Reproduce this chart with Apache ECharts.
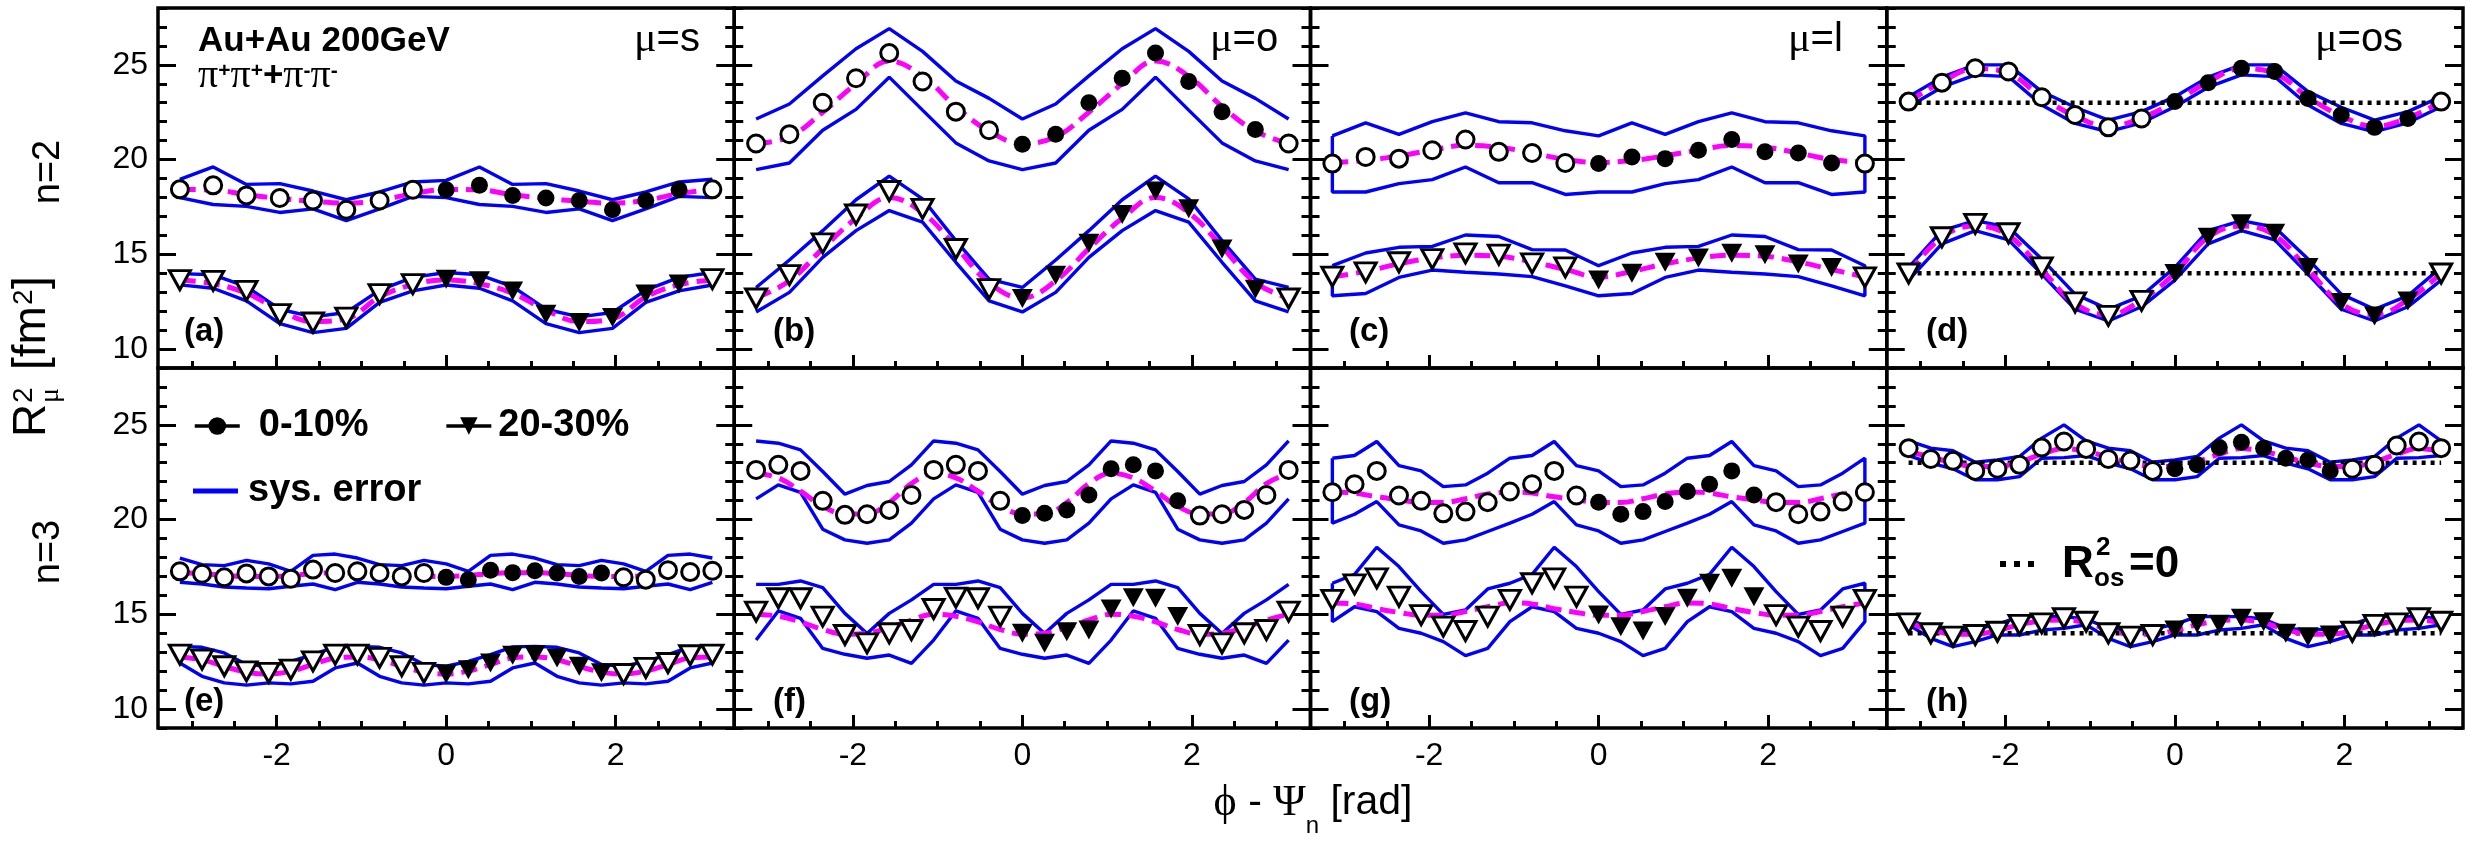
<!DOCTYPE html>
<html>
<head>
<meta charset="utf-8">
<title>R2 vs phi - Psi_n</title>
<script src="https://cdn.jsdelivr.net/npm/echarts@6.0.0/dist/echarts.min.js"></script>
<style>
html, body { margin: 0; padding: 0; background: #fff; }
#main { width: 2477px; height: 843px; }
</style>
</head>
<body>
<div id="main"></div>
<script>
// phi - Psi_n sample points [rad]
var phiN2 = [-3.142, -2.749, -2.356, -1.963, -1.571, -1.178, -0.785, -0.393, 0, 0.393, 0.785, 1.178, 1.571, 1.963, 2.356, 2.749, 3.142];
var phiN3 = [-3.142, -2.880, -2.618, -2.356, -2.094, -1.833, -1.571, -1.309, -1.047, -0.785, -0.524, -0.262, 0,
    0.262, 0.524, 0.785, 1.047, 1.309, 1.571, 1.833, 2.094, 2.356, 2.618, 2.880, 3.142];
// points from phi=0 on that are drawn filled (measured bins)
var filledSteps = 8;

// axis ticks / labels
var xMajorTicks = [-2, 0, 2];
var xMinorTicks = [-3, -2.5, -1.5, -1, -0.5, 0.5, 1, 1.5, 2.5, 3];
var yMajorTicks = [10, 15, 20, 25];
var yMinorTicks = [9, 11, 12, 13, 14, 16, 17, 18, 19, 21, 22, 23, 24, 26, 27, 28];
var osLevels = [23, 14];

var panelTags = ['(a)', '(b)', '(c)', '(d)', '(e)', '(f)', '(g)', '(h)'];
var muNames = ['s', 'o', 'l', 'os'];

// (a) mu=s, n=2   C = 0-10% circles, T = 20-30% triangles
var aC    = [18.43, 18.64, 18.11, 17.97, 17.84, 17.35, 17.84, 18.41, 18.41, 18.64, 18.11, 17.97, 17.84, 17.35, 17.84, 18.41, 18.43];
var aCHi  = [18.96, 19.61, 18.69, 18.73, 18.34, 17.88, 18.29, 18.82, 18.90, 19.61, 18.69, 18.73, 18.34, 17.88, 18.29, 18.82, 18.96];
var aCLo  = [17.99, 17.63, 17.53, 17.21, 17.40, 16.78, 17.40, 18.06, 17.99, 17.63, 17.53, 17.21, 17.40, 16.78, 17.40, 18.06, 17.99];
var aCFit = [18.42, 18.40, 18.15, 17.95, 17.80, 17.70, 17.85, 18.20, 18.42, 18.40, 18.15, 17.95, 17.80, 17.70, 17.85, 18.20, 18.42];
var aT    = [13.64, 13.60, 13.07, 11.84, 11.40, 11.66, 12.90, 13.43, 13.69, 13.60, 13.07, 11.84, 11.40, 11.66, 12.90, 13.43, 13.69];
var aTHi  = [13.98, 13.92, 13.29, 12.10, 11.70, 11.93, 13.11, 13.78, 14.04, 13.92, 13.29, 12.10, 11.70, 11.93, 13.11, 13.78, 14.04];
var aTLo  = [13.39, 13.21, 12.54, 11.34, 10.87, 11.09, 12.46, 13.07, 13.38, 13.21, 12.54, 11.34, 10.87, 11.09, 12.46, 13.07, 13.38];
var aTFit = [13.65, 13.45, 12.95, 12.05, 11.45, 11.60, 12.75, 13.40, 13.65, 13.45, 12.95, 12.05, 11.45, 11.60, 12.75, 13.40, 13.65];

// (b) mu=o, n=2
var bC    = [20.85, 21.34, 23.00, 24.29, 25.62, 24.12, 22.53, 21.55, 20.81, 21.34, 23.00, 24.29, 25.62, 24.12, 22.53, 21.59, 20.85];
var bCHi  = [22.14, 22.93, 24.42, 25.85, 26.91, 25.71, 24.15, 23.23, 22.14, 22.93, 24.42, 25.85, 26.91, 25.71, 24.15, 23.23, 22.14];
var bCLo  = [19.47, 19.82, 21.55, 22.65, 24.35, 22.61, 20.88, 19.93, 19.47, 19.82, 21.55, 22.65, 24.35, 22.61, 20.88, 19.93, 19.47];
var bCFit = [20.85, 21.20, 22.50, 24.00, 25.20, 24.40, 22.80, 21.50, 20.85, 21.20, 22.50, 24.00, 25.20, 24.40, 22.80, 21.50, 20.85];
var bT    = [12.67, 13.90, 15.58, 17.10, 18.34, 17.40, 15.28, 13.16, 12.67, 13.90, 15.58, 17.10, 18.34, 17.40, 15.28, 13.16, 12.67];
var bTHi  = [13.25, 14.70, 16.25, 17.88, 19.13, 17.93, 15.72, 13.69, 13.25, 14.70, 16.25, 17.88, 19.13, 17.93, 15.72, 13.69, 13.25];
var bTLo  = [11.96, 12.99, 14.84, 16.25, 17.31, 16.70, 14.58, 12.54, 11.96, 12.99, 14.84, 16.25, 17.31, 16.70, 14.58, 12.54, 11.96];
var bTFit = [12.70, 13.60, 15.30, 16.90, 18.00, 17.20, 15.40, 13.50, 12.70, 13.60, 15.30, 16.90, 18.00, 17.20, 15.40, 13.50, 12.70];

// (c) mu=l, n=2
var cC    = [19.79, 20.14, 20.05, 20.49, 21.06, 20.41, 20.35, 19.82, 19.79, 20.14, 20.05, 20.49, 21.06, 20.41, 20.35, 19.82, 19.79];
var cCHi  = [21.25, 21.94, 21.33, 22.00, 22.47, 22.00, 21.94, 21.52, 21.25, 21.94, 21.33, 22.00, 22.47, 22.00, 21.94, 21.52, 21.25];
var cCLo  = [18.29, 18.29, 18.73, 18.94, 19.61, 18.78, 18.78, 18.16, 18.29, 18.29, 18.73, 18.94, 19.61, 18.78, 18.78, 18.16, 18.29];
var cCFit = [19.85, 19.95, 20.20, 20.50, 20.75, 20.65, 20.35, 20.00, 19.85, 19.95, 20.20, 20.50, 20.75, 20.65, 20.35, 20.00, 19.85];
var cT    = [13.82, 14.05, 14.58, 14.75, 15.05, 14.98, 14.52, 14.31, 13.64, 14.00, 14.58, 14.81, 15.05, 14.98, 14.49, 14.31, 13.78];
var cTHi  = [14.40, 15.07, 15.37, 15.42, 16.02, 15.94, 15.25, 15.23, 14.40, 15.07, 15.37, 15.42, 16.02, 15.94, 15.25, 15.23, 14.40];
var cTLo  = [12.81, 12.93, 13.78, 14.17, 14.05, 13.96, 13.82, 13.34, 12.81, 12.93, 13.78, 14.17, 14.05, 13.96, 13.82, 13.34, 12.81];
var cTFit = [13.80, 14.10, 14.50, 14.80, 14.95, 14.90, 14.60, 14.20, 13.80, 14.10, 14.50, 14.80, 14.95, 14.90, 14.60, 14.20, 13.80];

// (d) mu=os, n=2
var dC    = [23.06, 24.06, 24.82, 24.65, 23.29, 22.35, 21.70, 22.17, 23.06, 24.06, 24.82, 24.65, 23.23, 22.35, 21.70, 22.17, 23.06];
var dCHi  = [23.32, 24.35, 25.00, 25.00, 23.59, 22.76, 22.08, 22.53, 23.32, 24.35, 25.00, 25.00, 23.59, 22.76, 22.08, 22.53, 23.32];
var dCLo  = [22.79, 23.82, 24.47, 24.38, 22.88, 21.91, 21.47, 21.94, 22.79, 23.82, 24.47, 24.38, 22.88, 21.91, 21.47, 21.94, 22.79];
var dCFit = [23.05, 24.10, 24.80, 24.55, 23.30, 22.30, 21.75, 22.20, 23.05, 24.10, 24.80, 24.55, 23.30, 22.30, 21.75, 22.20, 23.05];
var dT    = [13.99, 15.90, 16.61, 16.11, 14.31, 12.46, 11.75, 12.54, 13.99, 15.90, 16.61, 16.11, 14.31, 12.46, 11.75, 12.54, 13.99];
var dTHi  = [14.31, 16.25, 16.78, 16.43, 14.75, 12.90, 12.10, 12.81, 14.31, 16.25, 16.78, 16.43, 14.75, 12.90, 12.10, 12.81, 14.31];
var dTLo  = [13.64, 15.55, 16.25, 15.76, 13.96, 12.10, 11.48, 12.23, 13.64, 15.55, 16.25, 15.76, 13.96, 12.10, 11.48, 12.23, 13.64];
var dTFit = [14.00, 15.90, 16.50, 16.00, 14.20, 12.40, 11.80, 12.60, 14.00, 15.90, 16.50, 16.00, 14.20, 12.40, 11.80, 12.60, 14.00];

// (e) mu=s, n=3
var eC    = [17.27, 17.14, 16.95, 17.16, 17.00, 16.88, 17.36, 17.18, 17.27, 17.18, 17.00, 17.18, 16.95, 16.83, 17.33, 17.20,
             17.30, 17.18, 17.00, 17.18, 16.95, 16.83, 17.33, 17.23, 17.30];
var eCHi  = [17.97, 17.62, 17.57, 17.85, 17.66, 17.27, 18.11, 18.18, 17.97, 17.62, 17.57, 17.85, 17.66, 17.27, 18.11, 18.18,
             17.97, 17.62, 17.57, 17.85, 17.66, 17.27, 18.11, 18.18, 17.97];
var eCLo  = [16.69, 16.60, 16.44, 16.39, 16.35, 16.48, 16.60, 16.30, 16.69, 16.60, 16.44, 16.39, 16.35, 16.48, 16.60, 16.30,
             16.69, 16.60, 16.44, 16.39, 16.35, 16.48, 16.60, 16.30, 16.69];
var eCFit = [17.20, 17.15, 17.05, 17.00, 17.00, 17.05, 17.15, 17.20, 17.20, 17.15, 17.05, 17.00, 17.00, 17.05, 17.15, 17.20,
             17.20, 17.15, 17.05, 17.00, 17.00, 17.05, 17.15, 17.20, 17.20];
var eT    = [12.87, 12.61, 12.26, 11.99, 11.91, 12.08, 12.52, 12.87, 12.87, 12.70, 12.26, 11.91, 11.85, 12.08, 12.43, 12.84,
             12.87, 12.70, 12.26, 11.91, 11.85, 12.17, 12.43, 12.84, 12.87];
var eTHi  = [13.31, 13.26, 12.96, 12.35, 12.26, 12.52, 12.87, 13.28, 13.31, 13.26, 12.96, 12.35, 12.26, 12.52, 12.87, 13.28,
             13.31, 13.26, 12.96, 12.35, 12.26, 12.52, 12.87, 13.28, 13.31];
var eTLo  = [12.43, 11.73, 11.38, 11.26, 11.38, 11.33, 11.47, 12.17, 12.43, 11.73, 11.38, 11.26, 11.38, 11.33, 11.47, 12.17,
             12.43, 11.73, 11.38, 11.26, 11.38, 11.33, 11.47, 12.17, 12.43];
var eTFit = [12.75, 12.60, 12.25, 11.95, 11.85, 12.00, 12.35, 12.70, 12.75, 12.60, 12.25, 11.95, 11.85, 12.00, 12.35, 12.70,
             12.75, 12.60, 12.25, 11.95, 11.85, 12.00, 12.35, 12.70, 12.75];

// (f) mu=o, n=3
var fC    = [22.62, 22.89, 22.57, 20.99, 20.25, 20.28, 20.51, 21.30, 22.62, 22.89, 22.57, 20.99, 20.21, 20.33, 20.51, 21.30,
             22.68, 22.89, 22.57, 20.99, 20.21, 20.28, 20.51, 21.30, 22.62];
var fCHi  = [24.15, 24.03, 23.68, 22.54, 21.34, 21.80, 22.01, 22.89, 24.15, 24.03, 23.68, 22.54, 21.34, 21.80, 22.01, 22.89,
             24.15, 24.03, 23.68, 22.54, 21.34, 21.80, 22.01, 22.89, 24.15];
var fCLo  = [21.09, 21.83, 21.44, 19.49, 18.93, 18.75, 18.93, 19.81, 21.09, 21.83, 21.44, 19.49, 18.93, 18.75, 18.93, 19.81,
             21.09, 21.83, 21.44, 19.49, 18.93, 18.75, 18.93, 19.81, 21.09];
var fCFit = [22.45, 22.20, 21.50, 20.70, 20.30, 20.30, 20.90, 21.90, 22.45, 22.20, 21.50, 20.70, 20.30, 20.30, 20.90, 21.90,
             22.45, 22.20, 21.50, 20.70, 20.30, 20.30, 20.90, 21.90, 22.45];
var fT    = [15.14, 15.85, 15.85, 14.88, 13.91, 13.47, 14.00, 14.17, 15.28, 15.88, 15.85, 14.88, 14.00, 13.47, 14.08, 14.17,
             15.28, 15.88, 15.85, 14.88, 13.91, 13.47, 14.00, 14.17, 15.14];
var fTHi  = [16.58, 16.58, 16.76, 16.41, 15.05, 13.99, 15.05, 15.76, 16.58, 16.58, 16.76, 16.41, 15.05, 13.99, 15.05, 15.76,
             16.58, 16.58, 16.76, 16.41, 15.05, 13.99, 15.05, 15.76, 16.58];
var fTLo  = [13.64, 15.18, 14.79, 13.20, 12.89, 12.68, 12.85, 12.41, 13.64, 15.18, 14.79, 13.20, 12.89, 12.68, 12.85, 12.41,
             13.64, 15.18, 14.79, 13.20, 12.89, 12.68, 12.85, 12.41, 13.64];
var fTFit = [15.00, 14.90, 14.60, 14.20, 13.95, 14.00, 14.30, 14.70, 15.00, 14.90, 14.60, 14.20, 13.95, 14.00, 14.30, 14.70,
             15.00, 14.90, 14.60, 14.20, 13.95, 14.00, 14.30, 14.70, 15.00];

// (g) mu=l, n=3
var gC    = [21.44, 21.87, 22.57, 21.27, 20.99, 20.33, 20.42, 20.92, 21.48, 21.87, 22.57, 21.27, 20.92, 20.28, 20.42, 20.95,
             21.48, 21.87, 22.57, 21.30, 20.92, 20.28, 20.42, 20.95, 21.44];
var gCHi  = [23.24, 23.38, 24.12, 22.85, 22.57, 21.74, 21.83, 22.45, 23.24, 23.38, 24.12, 22.85, 22.57, 21.74, 21.83, 22.45,
             23.24, 23.38, 24.12, 22.85, 22.57, 21.74, 21.83, 22.45, 23.24];
var gCLo  = [19.81, 20.28, 20.95, 19.72, 19.40, 18.75, 18.93, 19.37, 19.81, 20.28, 20.95, 19.72, 19.40, 18.75, 18.93, 19.37,
             19.81, 20.28, 20.95, 19.72, 19.40, 18.75, 18.93, 19.37, 19.81];
var gCFit = [21.45, 21.40, 21.20, 21.05, 20.90, 20.90, 21.10, 21.35, 21.45, 21.40, 21.20, 21.05, 20.90, 20.90, 21.10, 21.35,
             21.45, 21.40, 21.20, 21.05, 20.90, 20.90, 21.10, 21.35, 21.45];
var gT    = [15.76, 16.58, 16.90, 15.93, 14.96, 14.35, 14.12, 14.88, 15.76, 16.64, 16.90, 15.93, 14.96, 14.35, 14.12, 14.88,
             15.85, 16.64, 16.90, 15.93, 14.96, 14.35, 14.12, 14.88, 15.76];
var gTHi  = [16.64, 17.11, 18.54, 17.52, 16.20, 15.00, 15.23, 16.34, 16.64, 17.11, 18.54, 17.52, 16.20, 15.00, 15.23, 16.34,
             16.64, 17.11, 18.54, 17.52, 16.20, 15.00, 15.23, 16.34, 16.64];
var gTLo  = [14.61, 15.40, 15.14, 14.26, 14.00, 13.56, 12.82, 13.20, 14.61, 15.40, 15.14, 14.26, 14.00, 13.56, 12.82, 13.20,
             14.61, 15.40, 15.14, 14.26, 14.00, 13.56, 12.82, 13.20, 14.61];
var gTFit = [15.60, 15.55, 15.30, 15.10, 14.95, 14.95, 15.15, 15.40, 15.60, 15.55, 15.30, 15.10, 14.95, 14.95, 15.15, 15.40,
             15.60, 15.55, 15.30, 15.10, 14.95, 14.95, 15.15, 15.40, 15.60];

// (h) mu=os, n=3
var hC    = [23.77, 23.20, 23.10, 22.57, 22.68, 22.89, 23.80, 24.12, 23.73, 23.20, 23.12, 22.57, 22.68, 22.89, 23.80, 24.08,
             23.77, 23.24, 23.15, 22.57, 22.68, 22.89, 23.91, 24.12, 23.77];
var hCHi  = [24.15, 23.77, 23.63, 23.03, 23.15, 23.33, 24.30, 25.00, 24.15, 23.77, 23.63, 23.03, 23.15, 23.33, 24.30, 25.00,
             24.15, 23.77, 23.63, 23.03, 23.15, 23.33, 24.30, 25.00, 24.15];
var hCLo  = [23.38, 22.98, 22.68, 22.10, 22.10, 22.27, 23.24, 23.27, 23.38, 22.98, 22.68, 22.10, 22.10, 22.27, 23.24, 23.27,
             23.38, 22.98, 22.68, 22.10, 22.10, 22.27, 23.24, 23.27, 23.38];
var hCFit = [23.60, 23.30, 23.00, 22.80, 22.80, 23.05, 23.45, 23.75, 23.60, 23.30, 23.00, 22.80, 22.80, 23.05, 23.45, 23.75,
             23.60, 23.30, 23.00, 22.80, 22.80, 23.05, 23.45, 23.75, 23.60];
var hT    = [14.52, 14.00, 13.82, 13.91, 14.08, 14.44, 14.52, 14.79, 14.61, 14.00, 13.82, 13.91, 14.17, 14.52, 14.47, 14.79,
             14.61, 14.00, 13.82, 13.91, 14.08, 14.44, 14.52, 14.79, 14.61];
var hTHi  = [14.75, 14.26, 14.17, 14.22, 14.47, 14.88, 14.88, 14.88, 14.75, 14.26, 14.17, 14.22, 14.47, 14.88, 14.88, 14.88,
             14.75, 14.26, 14.17, 14.22, 14.47, 14.88, 14.88, 14.88, 14.75];
var hTLo  = [14.45, 13.73, 13.29, 13.56, 13.91, 13.91, 14.17, 14.26, 14.45, 13.73, 13.29, 13.56, 13.91, 13.91, 14.17, 14.26,
             14.45, 13.73, 13.29, 13.56, 13.91, 13.91, 14.17, 14.26, 14.45];
var hTFit = [14.55, 14.20, 13.95, 13.95, 14.15, 14.45, 14.65, 14.70, 14.55, 14.20, 13.95, 13.95, 14.15, 14.45, 14.65, 14.70,
             14.55, 14.20, 13.95, 13.95, 14.15, 14.45, 14.65, 14.70, 14.55];

var FONT = '"Liberation Sans", Arial, Helvetica, sans-serif';
var SERIF = '"Liberation Serif", "DejaVu Serif", serif';
var BLUE = '#0000ff', MAGENTA = '#ff00ff';

var panels = [
    { phi: phiN2, c: aC, cHi: aCHi, cLo: aCLo, cFit: aCFit, t: aT, tHi: aTHi, tLo: aTLo, tFit: aTFit, closed: false, ref: false },
    { phi: phiN2, c: bC, cHi: bCHi, cLo: bCLo, cFit: bCFit, t: bT, tHi: bTHi, tLo: bTLo, tFit: bTFit, closed: false, ref: false },
    { phi: phiN2, c: cC, cHi: cCHi, cLo: cCLo, cFit: cCFit, t: cT, tHi: cTHi, tLo: cTLo, tFit: cTFit, closed: true, ref: false },
    { phi: phiN2, c: dC, cHi: dCHi, cLo: dCLo, cFit: dCFit, t: dT, tHi: dTHi, tLo: dTLo, tFit: dTFit, closed: true, ref: true },
    { phi: phiN3, c: eC, cHi: eCHi, cLo: eCLo, cFit: eCFit, t: eT, tHi: eTHi, tLo: eTLo, tFit: eTFit, closed: false, ref: false },
    { phi: phiN3, c: fC, cHi: fCHi, cLo: fCLo, cFit: fCFit, t: fT, tHi: fTHi, tLo: fTLo, tFit: fTFit, closed: false, ref: false },
    { phi: phiN3, c: gC, cHi: gCHi, cLo: gCLo, cFit: gCFit, t: gT, tHi: gTHi, tLo: gTLo, tFit: gTFit, closed: true, ref: false },
    { phi: phiN3, c: hC, cHi: hCHi, cLo: hCLo, cFit: hCFit, t: hT, tHi: hTHi, tLo: hTLo, tFit: hTFit, closed: true, ref: true }
];

var GRID_LEFT = 158, GRID_TOP = 8, PANEL_W = 576.25, PANEL_H = 360;

function toPoints(phi, vals) {
    return vals.map(function (v, i) { return [phi[i], v]; });
}

function splitFilled(phi, vals) {
    var mid = (phi.length - 1) / 2;
    var out = { filled: [], open: [] };
    vals.forEach(function (v, i) {
        var k = i - mid;
        if (k >= 0 && k < filledSteps) out.filled.push([phi[i], v]);
        else out.open.push([phi[i], v]);
    });
    return out;
}

function bandSeries(i, phi, hi, lo, closed) {
    function make(data) {
        return {
            type: 'line', name: 'sys. error', xAxisIndex: 2 * i, yAxisIndex: 4 * i,
            data: data, symbol: 'none', silent: true, z: 2,
            itemStyle: { color: BLUE }, lineStyle: { color: BLUE, width: 3.4 }
        };
    }
    if (closed) {
        var ring = toPoints(phi, hi).concat(toPoints(phi, lo).reverse());
        ring.push([phi[0], hi[0]]);
        return [make(ring)];
    }
    return [make(toPoints(phi, hi)), make(toPoints(phi, lo))];
}

function fitSeries(i, phi, vals) {
    return {
        type: 'line', name: 'fit', xAxisIndex: 2 * i, yAxisIndex: 4 * i,
        data: toPoints(phi, vals), smooth: 0.4, symbol: 'none', silent: true, z: 3,
        lineStyle: { color: MAGENTA, width: 5, type: [16, 8] }
    };
}

function markerSeries(i, pts, isCircle, filled) {
    return {
        type: 'line',
        name: filled ? (isCircle ? '0-10%' : '20-30%') : 'open',
        xAxisIndex: 2 * i, yAxisIndex: 4 * i, data: pts, z: 5,
        symbol: isCircle ? 'circle' : 'triangle',
        symbolRotate: isCircle ? 0 : 180,
        symbolSize: isCircle ? 17 : [21, 19],
        showSymbol: true, showAllSymbol: true, silent: true,
        lineStyle: { opacity: 0 },
        itemStyle: filled ? { color: '#000', borderColor: '#000', borderWidth: 0 }
                          : { color: '#fff', borderColor: '#000', borderWidth: 3 },
        emphasis: { disabled: true }
    };
}

var grids = [], xAxes = [], yAxes = [], series = [];

panels.forEach(function (p, i) {
    var col = i % 4, row = Math.floor(i / 4);
    grids.push({
        left: GRID_LEFT + col * PANEL_W, top: GRID_TOP + row * PANEL_H,
        width: PANEL_W, height: PANEL_H,
        show: true, borderColor: '#000', borderWidth: 3.5, backgroundColor: 'transparent'
    });

    var xBase = {
        gridIndex: i, type: 'value', min: -3.4, max: 3.4, position: 'bottom',
        axisLine: { show: false, onZero: false }, splitLine: { show: false }
    };
    xAxes.push(Object.assign({}, xBase, {
        axisTick: { show: true, inside: true, length: 13, lineStyle: { color: '#000', width: 3 }, customValues: xMajorTicks },
        axisLabel: row === 1
            ? { show: true, customValues: xMajorTicks, color: '#000', fontSize: 32, fontFamily: FONT, margin: 12 }
            : { show: false }
    }));
    xAxes.push(Object.assign({}, xBase, {
        axisTick: { show: true, inside: true, length: 7, lineStyle: { color: '#000', width: 3 }, customValues: xMinorTicks },
        axisLabel: { show: false }
    }));

    ['left', 'right'].forEach(function (side) {
        var yBase = {
            gridIndex: i, type: 'value', min: 9, max: 28, position: side,
            axisLine: { show: false, onZero: false }, splitLine: { show: false }
        };
        yAxes.push(Object.assign({}, yBase, {
            axisTick: { show: true, inside: true, length: 18, lineStyle: { color: '#000', width: 3 }, customValues: yMajorTicks },
            axisLabel: (side === 'left' && col === 0)
                ? { show: true, customValues: yMajorTicks, color: '#000', fontSize: 32, fontFamily: FONT, margin: 10 }
                : { show: false }
        }));
        yAxes.push(Object.assign({}, yBase, {
            axisTick: { show: true, inside: true, length: 9, lineStyle: { color: '#000', width: 3 }, customValues: yMinorTicks },
            axisLabel: { show: false }
        }));
    });

    series = series.concat(bandSeries(i, p.phi, p.cHi, p.cLo, p.closed));
    series = series.concat(bandSeries(i, p.phi, p.tHi, p.tLo, p.closed));
    if (p.ref) {
        osLevels.forEach(function (lv) {
            series.push({
                type: 'line', name: 'R2os=0', xAxisIndex: 2 * i, yAxisIndex: 4 * i,
                data: [[p.phi[0], lv], [p.phi[p.phi.length - 1], lv]],
                symbol: 'none', silent: true, z: 2,
                lineStyle: { color: '#000', width: 4.5, type: [4, 5] }
            });
        });
    }
    series.push(fitSeries(i, p.phi, p.cFit));
    series.push(fitSeries(i, p.phi, p.tFit));

    var cs = splitFilled(p.phi, p.c), ts = splitFilled(p.phi, p.t);
    series.push(markerSeries(i, cs.open, true, false));
    series.push(markerSeries(i, cs.filled, true, true));
    series.push(markerSeries(i, ts.open, false, false));
    series.push(markerSeries(i, ts.filled, false, true));
});

function txt(x, y, text, font, extra) {
    return Object.assign({
        type: 'text', x: x, y: y, z: 20,
        style: { text: text, font: font, fill: '#000', textAlign: 'left', textVerticalAlign: 'middle' }
    }, extra || {});
}

var graphics = [];

// panel tags
var tagX = [184, 773, 1349, 1926];
panelTags.forEach(function (tag, i) {
    graphics.push(txt(tagX[i % 4], i < 4 ? 332 : 702, tag, 'bold 33px ' + FONT));
});

// mu labels
var muX = [634, 1210, 1788, 2315];
muNames.forEach(function (m, i) {
    graphics.push({
        type: 'text', x: muX[i], y: 40, z: 20,
        style: {
            text: '{g|\u03bc}{t|=' + m + '}', textVerticalAlign: 'middle', fill: '#000',
            rich: {
                g: { fontFamily: SERIF, fontSize: 42, fill: '#000' },
                t: { fontFamily: FONT, fontSize: 40, fill: '#000' }
            }
        }
    });
});

// system label
graphics.push(txt(198, 41, 'Au+Au 200GeV', 'bold 35px ' + FONT));
graphics.push({
    type: 'text', x: 198, y: 76, z: 20,
    style: {
        text: '{p|\u03c0}{u|+}{p|\u03c0}{u|+}{b|+}{p|\u03c0}{u|-}{p|\u03c0}{u|-}',
        textVerticalAlign: 'middle', fill: '#000',
        rich: {
            p: { fontFamily: SERIF, fontSize: 40, lineHeight: 30 },
            u: { fontFamily: FONT, fontSize: 21, fontWeight: 'bold', lineHeight: 18, verticalAlign: 'top' },
            b: { fontFamily: FONT, fontSize: 35, fontWeight: 'bold', lineHeight: 30 }
        }
    }
});

// row labels
graphics.push(txt(49, 172, 'n=2', '38px ' + FONT, { rotation: Math.PI / 2, style: { text: 'n=2', font: '38px ' + FONT, fill: '#000', textAlign: 'center', textVerticalAlign: 'middle' } }));
graphics.push(txt(49, 552, 'n=3', '38px ' + FONT, { rotation: Math.PI / 2, style: { text: 'n=3', font: '38px ' + FONT, fill: '#000', textAlign: 'center', textVerticalAlign: 'middle' } }));

// y title  R^2_mu [fm^2]
graphics.push({
    type: 'group', x: 32, y: 437, rotation: Math.PI / 2, z: 20,
    children: [
        txt(0, 0, 'R', '46px ' + FONT),
        txt(34, -8, '2', '28px ' + FONT),
        txt(34, 19, '\u03bc', '28px ' + SERIF),
        txt(67, 0, '[fm', '46px ' + FONT),
        txt(132, -8, '2', '28px ' + FONT),
        txt(148, 0, ']', '46px ' + FONT)
    ]
});

// x title
graphics.push({
    type: 'text', x: 1313, y: 803, z: 20,
    style: {
        text: '{g|\u03d5}{t| - }{g|\u03a8}{s|n}{t| [rad]}',
        textAlign: 'center', textVerticalAlign: 'middle', fill: '#000',
        rich: {
            g: { fontFamily: SERIF, fontSize: 44, lineHeight: 70 },
            t: { fontFamily: FONT, fontSize: 41, lineHeight: 70 },
            s: { fontFamily: FONT, fontSize: 24, lineHeight: 24, verticalAlign: 'bottom' }
        }
    }
});

// R^2_os = 0 key in panel (h)
graphics.push({
    type: 'line', z: 20,
    shape: { x1: 2000, y1: 564, x2: 2034, y2: 564 },
    style: { stroke: '#000', lineWidth: 6, lineDash: [6, 8] }
});
graphics.push(txt(2062, 565, 'R', 'bold 44px ' + FONT));
graphics.push(txt(2096, 548, '2', 'bold 26px ' + FONT));
graphics.push(txt(2094, 579, 'os', 'bold 26px ' + FONT));
graphics.push(txt(2129, 565, '=0', 'bold 44px ' + FONT));

var legendText = { fontFamily: FONT, fontWeight: 'bold', fontSize: 38, color: '#000' };

var option = {
    animation: false,
    backgroundColor: '#fff',
    grid: grids,
    xAxis: xAxes,
    yAxis: yAxes,
    series: series,
    legend: [
        {
            data: [
                { name: '0-10%', textStyle: { padding: [0, 0, 0, 14] } },
                { name: '20-30%', textStyle: { padding: [0, 0, 0, 2] } }
            ],
            left: 193, top: 407, padding: 0, itemGap: 76,
            itemWidth: 45, itemHeight: 22, selectedMode: false,
            textStyle: legendText,
            lineStyle: { color: '#000', width: 3.5, opacity: 1 }
        },
        {
            data: [{ name: 'sys. error', icon: 'rect', textStyle: { padding: [0, 0, 0, 5] } }],
            left: 193, top: 472, padding: 0,
            itemWidth: 45, itemHeight: 5, selectedMode: false,
            textStyle: legendText
        }
    ],
    graphic: graphics
};

var myChart = echarts.init(document.getElementById('main'));
myChart.setOption(option);
</script>
</body>
</html>
